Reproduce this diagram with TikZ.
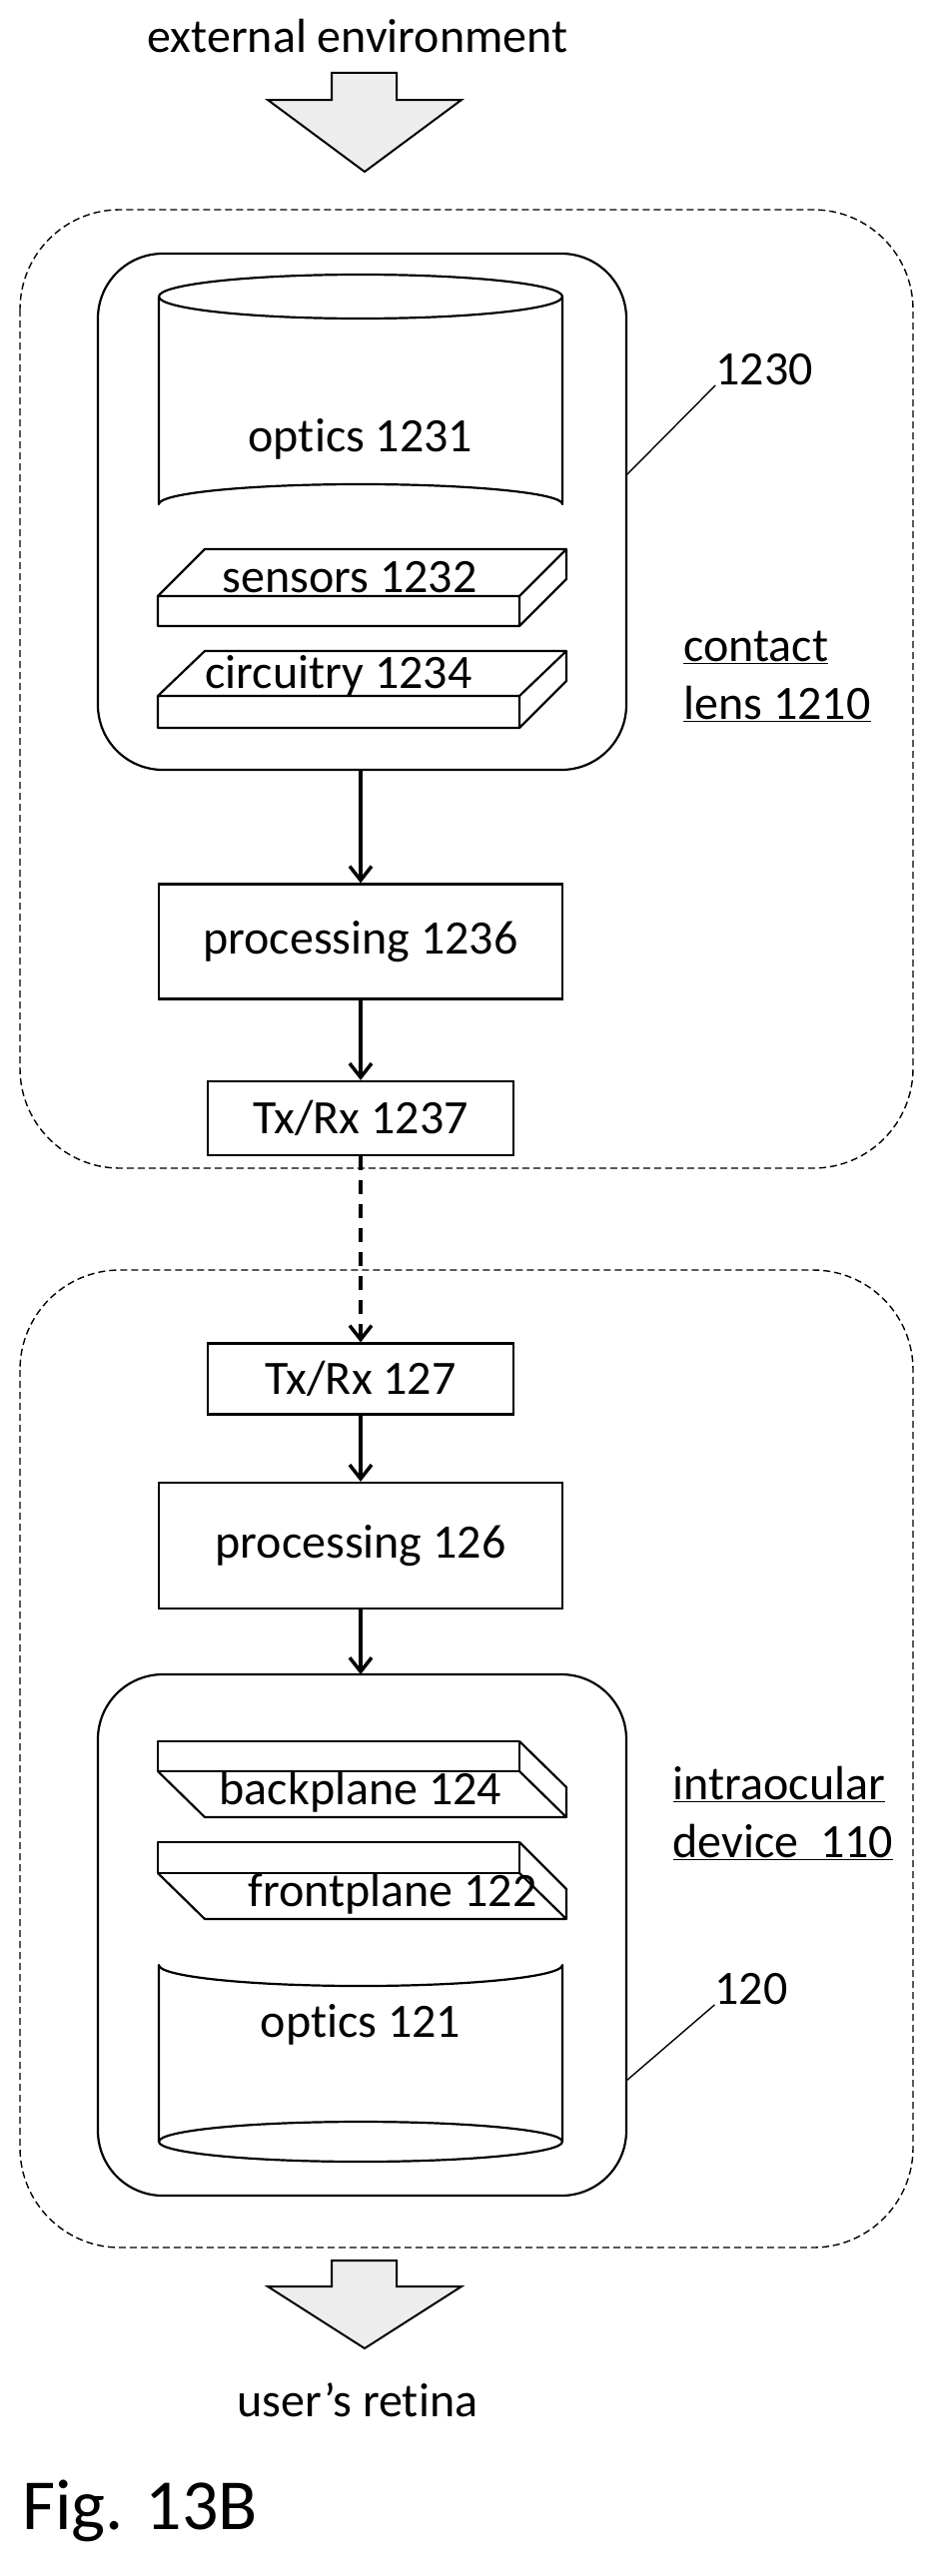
\documentclass[tikz,border=0pt]{standalone}
\usepackage{fontspec}
\setmainfont[Ligatures={NoCommon,NoRare}]{Carlito}
\usetikzlibrary{arrows.meta, positioning}
\tikzset{
  lbl/.style={font=\fontsize{48}{52}\selectfont, inner sep=0pt},
  block/.style={draw, line width=2.2pt, rectangle, lbl, inner sep=0pt},
  zone/.style={draw, line width=1.4pt, dash pattern=on 7pt off 4pt, rounded corners=100pt},
  flow/.style={-{Straight Barb[length=14pt, width=22pt, line width=3.5pt]}, line width=4.5pt},
  link/.style={flow, dash pattern=on 14pt off 10pt},
  part/.style={line width=2.2pt, line join=round},
  bigarrow/.style={draw, line width=2pt, fill=gray!14},
}
\begin{document}
\begin{tikzpicture}[x=1pt, y=-1pt]
  \useasboundingbox (0,0) rectangle (937,2580);

  % incoming light
  \node[lbl] (env) at (358,36) {external environment};
  \draw[bigarrow] (332,73) -- (397,73) -- (397,100) -- (462,100) -- (365,172)
    -- (268,100) -- (332,100) -- cycle;

  % contact lens
  \draw[zone] (20,210) rectangle (914,1170);
  \draw[part] (98,254) [rounded corners=65pt] rectangle (627,771);
  \coordinate (lensbot) at (361,771);
  % optics 1231
  \draw[part] (361,297) ellipse [x radius=202, y radius=22];
  \draw[part] (159,297) -- (159,505) arc[start angle=180, end angle=360, x radius=202, y radius=20] -- (563,297);
  \node[lbl] (optics1) at (361,440) {optics 1231};
  % sensors 1232
  \draw[part] (158,597) -- (205,550) -- (567,550) -- (567,580) -- (520,627)
    -- (158,627) -- cycle (158,597) -- (520,597) -- (567,550) (520,597) -- (520,627);
  \node[lbl] (sensors) at (350,578) {sensors 1232};
  % circuitry 1234
  \draw[part] (158,697) -- (205,652) -- (567,652) -- (567,682) -- (520,729)
    -- (158,729) -- cycle (158,697) -- (520,697) -- (567,652) (520,697) -- (520,729);
  \node[lbl] (circuitry) at (339,677) {circuitry 1234};

  \node[block, minimum width=404pt, minimum height=115pt] (proc1) at (361,943) {processing 1236};
  \node[block, minimum width=306pt, minimum height=74pt] (txrx1) at (361,1120) {Tx/Rx 1237};
  \draw[flow] (lensbot) -- (proc1);
  \draw[flow] (proc1) -- (txrx1);

  \node[lbl] (n1230) at (765,370) {1230};
  \draw[line width=1.4pt] (627,476) -- (n1230.south west);
  \node[lbl, align=left] (lens1210) at (778,677) {\underline{contact}\\[6pt]\underline{lens 1210}};

  % intraocular device
  \draw[zone] (20,1272) rectangle (914,2251);
  \node[block, minimum width=306pt, minimum height=71pt] (txrx2) at (361,1381) {Tx/Rx 127};
  \node[block, minimum width=404pt, minimum height=126pt] (proc2) at (361,1548) {processing 126};
  \draw[part] (98,1677) [rounded corners=65pt] rectangle (627,2199);
  \coordinate (devtop) at (361,1677);
  \draw[link] (txrx1) -- (txrx2);
  \draw[flow] (txrx2) -- (proc2);
  \draw[flow] (proc2) -- (devtop);
  % backplane 124
  \draw[part] (158,1744) rectangle (520,1774);
  \draw[part] (520,1744) -- (567,1790) -- (567,1820) -- (205,1820) -- (158,1774)
    (520,1774) -- (567,1820);
  \node[lbl] (backplane) at (361,1795) {backplane 124};
  % frontplane 122
  \draw[part] (158,1845) rectangle (520,1876);
  \draw[part] (520,1845) -- (567,1892) -- (567,1922) -- (205,1922) -- (158,1876)
    (520,1876) -- (567,1922);
  \node[lbl] (frontplane) at (393,1897) {frontplane 122};
  % optics 121
  \draw[part] (159,2145) -- (159,1968) arc[start angle=180, end angle=0, x radius=202, y radius=21] -- (563,2145);
  \draw[part] (361,2145) ellipse [x radius=202, y radius=20];
  \node[lbl] (optics2) at (361,2028) {optics 121};

  \node[lbl] (n120) at (752,1992) {120};
  \draw[line width=1.4pt] (627,2084) -- (n120.south west);
  \node[lbl, align=left] (dev110) at (784,1816) {\underline{intraocular}\\[6pt]\underline{device\ \ 110}};

  % outgoing light
  \draw[bigarrow] (332,2264) -- (397,2264) -- (397,2290) -- (462,2290) -- (365,2352)
    -- (268,2290) -- (332,2290) -- cycle;
  \node[lbl] (retina) at (358,2404) {user’s retina};

  \node[lbl, font=\fontsize{72}{76}\selectfont] (fig) at (140,2515) {Fig. 13B};
\end{tikzpicture}
\end{document}
